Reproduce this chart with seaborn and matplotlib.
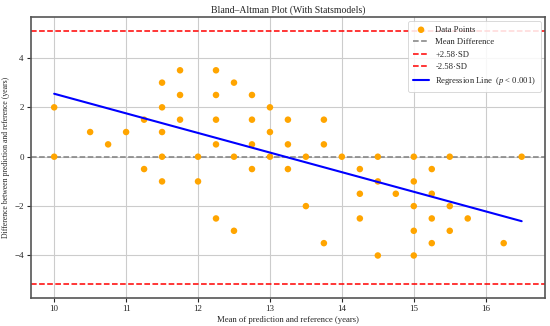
import numpy as np
import matplotlib
matplotlib.use('Agg')
import matplotlib.pyplot as plt
import seaborn as sns

# mean of prediction and reference (years)
mean_vals = [10, 10, 10.5, 10.75, 11, 11.25, 11.25, 11.5, 11.5, 11.5, 11.5, 11.5,
             11.75, 11.75, 11.75, 12, 12,
             12.25, 12.5, 12.25, 12.75, 13, 12.25, 12.75, 13.25, 13.75, 13,
             12.25, 12.75, 13.25, 13.75, 12.5, 13, 13.5, 14, 14.5,
             12.75, 13.25, 14.25, 14.5, 14.25, 14.75, 13.5, 12.25, 14.25,
             12.5, 13.75, 14.5,
             15, 15.5, 16.5, 15.25, 15, 15.25, 15, 15.5, 15.25, 15.75,
             15, 15.5, 15.25, 16.25, 15]
# difference between prediction and reference (years)
diff_vals = [2, 0, 1, 0.5, 1, 1.5, -0.5, 3, 2, 1, 0, -1,
             3.5, 2.5, 1.5, 0, -1,
             3.5, 3, 2.5, 2.5, 2, 1.5, 1.5, 1.5, 1.5, 1,
             0.5, 0.5, 0.5, 0.5, 0, 0, 0, 0, 0,
             -0.5, -0.5, -0.5, -1, -1.5, -1.5, -2, -2.5, -2.5,
             -3, -3.5, -4,
             0, 0, 0, -0.5, -1, -1.5, -2, -2, -2.5, -2.5,
             -3, -3, -3.5, -3.5, -4]

mean_diff = 0.0
upper_loa = 5.1
lower_loa = -5.15
reg_slope = -0.794
reg_intercept = 10.49


def main():
    sns.set_style('whitegrid', {'axes.edgecolor': '#555555', 'grid.color': '#cccccc',
                                'xtick.bottom': True, 'ytick.left': True})
    plt.rcParams['font.family'] = ['Liberation Serif', 'DejaVu Serif']
    plt.rcParams['mathtext.fontset'] = 'custom'
    plt.rcParams['mathtext.it'] = 'Liberation Serif:italic'

    fig, ax = plt.subplots(figsize=(5.5, 3.26), dpi=100)
    fig.subplots_adjust(left=0.056, right=0.991, top=0.948, bottom=0.086)

    sns.scatterplot(x=mean_vals, y=diff_vals, ax=ax, color='orange', s=22,
                    edgecolor='none', label='Data Points', zorder=3)
    ax.axhline(mean_diff, color='gray', linestyle='--', lw=1.1, label='Mean Difference')
    ax.axhline(upper_loa, color='red', linestyle='--', lw=1.1, label='+2.58·SD')
    ax.axhline(lower_loa, color='red', linestyle='--', lw=1.1, label='-2.58·SD')

    xs = np.array([min(mean_vals), max(mean_vals)])
    sns.lineplot(x=xs, y=reg_intercept + reg_slope * xs, ax=ax, color='blue', lw=1.5,
                 label='Regression Line  ($p$ < 0.001)', zorder=4)

    ax.set_xlim(9.675, 16.825)
    ax.set_ylim(-5.72, 5.66)
    ax.set_xticks(range(10, 17))
    ax.set_yticks([-4, -2, 0, 2, 4])
    for s in ax.spines.values():
        s.set_linewidth(1.2)
    ax.tick_params(labelsize=6.5, length=3, width=0.8, pad=2)

    ax.set_title('Bland\u2013Altman Plot (With Statsmodels)', fontsize=7, pad=3)
    ax.set_xlabel('Mean of prediction and reference (years)', fontsize=6.2, labelpad=2)
    ax.set_ylabel('Difference between prediction and reference (years)', fontsize=5.6, labelpad=3)
    leg = ax.legend(loc='upper right', fontsize=6.2, framealpha=0.85, borderpad=0.55,
                    labelspacing=0.5, handlelength=1.9, handletextpad=0.7,
                    borderaxespad=0.5)
    leg.get_frame().set_linewidth(0.6)

    fig.savefig('out.png', dpi=100)


if __name__ == '__main__':
    main()
